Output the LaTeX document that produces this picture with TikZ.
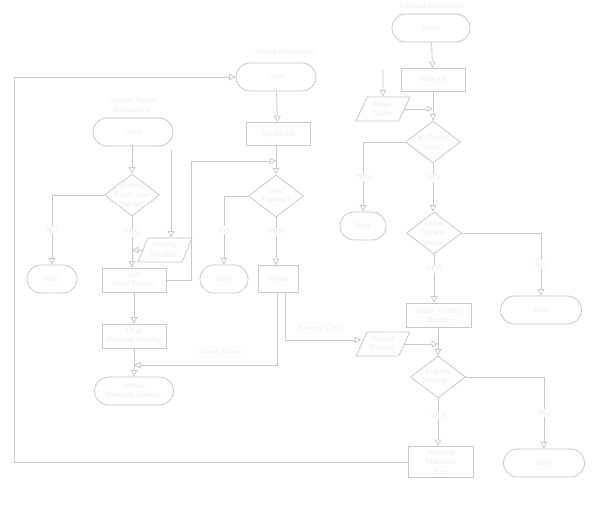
\documentclass[tikz,border=0pt]{standalone}
\usepackage{fontspec}
\setmainfont{Liberation Sans}
\usetikzlibrary{shapes.geometric,arrows.meta,calc}
\definecolor{lncol}{HTML}{C8C8C8}
\definecolor{txcol}{HTML}{EFEFEF}
\begin{document}
\begin{tikzpicture}[x=1pt,y=-1pt,
  font=\fontsize{8}{9.5}\selectfont,
  every node/.style={text=txcol, align=center},
  base/.style={draw=lncol, line width=0.8pt, fill=white, inner sep=0pt},
  term/.style={base, rectangle, rounded corners=14pt, minimum width=#1, minimum height=28pt},
  proc/.style={base, rectangle, minimum width=64pt, minimum height=23pt},
  dec/.style={base, diamond, minimum width=55pt, minimum height=42pt, aspect=1.35},
  io/.style={base, trapezium, trapezium left angle=62, trapezium right angle=118, trapezium stretches=true, minimum width=54pt, minimum height=24pt},
  lab/.style={fill=white, inner sep=1pt},
  arr/.style={draw=lncol, line width=0.8pt, -{Triangle[open,length=6.5pt,width=6.5pt]}}
]
\useasboundingbox (0,0) rectangle (599,510);

% ---------- Interact Behaviour ----------
\node (ititle) at (432,6) {Interact Behaviour};
\node[term=78pt] (istart) at (431,28) {Start};
\node[proc] (hide) at (433,80) {Hide UI};
\node[io] (pstate) at (383,109) {Player\\State};
\node[dec, label={center:Is Player\\Dead?}] (dead) at (433,142) {};
\node[term=46pt] (iend1) at (363,226) {End};
\node[dec, label={center:Enter\\Sphere\\Collider?}] (sphere) at (434,233) {};
\node[term=81pt] (iend2) at (541,310) {End};
\node[proc, minimum width=65pt, minimum height=24pt] (showbtn) at (439,315) {Show Control\\Button};
\node[io] (penergy) at (383,344) {Player\\Energy};
\node[dec, label={center:Energy\\Enough?}] (energy) at (438,377) {};
\node[term=81pt] (iend3) at (544,463) {End};
\node[proc, minimum width=65pt, minimum height=31pt] (amg) at (441,462) {Activate\\Machine\\Gun};

% ---------- Attack Behaviour ----------
\node (atitle) at (285,52) {Attack Behaviour};
\node[term=80pt] (astart) at (276,77) {Start};
\node[proc] (tryshoot) at (278,134) {Try Shoot};
\node[dec, label={center:Valid\\Enemy?}] (valid) at (276,196) {};
\node[term=48pt] (aend) at (224,279) {End};
\node[proc, minimum width=40pt, minimum height=27pt] (shoot) at (278,279) {Shoot};
\node (avlab) at (220,352) {Attack Value};
\node (eclab) at (320,329) {Energy Cost};

% ---------- Search Target Behaviour ----------
\node (stitle) at (132,105) {Search Target\\Behaviour};
\node[term=80pt] (sstart) at (133,132) {Start};
\node[dec, label={center:Enemy\\Enter Box\\Collider?}] (enter) at (132,195) {};
\node[term=50pt] (send) at (52,279) {End};
\node[proc, minimum height=24pt] (getvalid) at (134,280) {Get\\Valid Enemy};
\node[io] (epos) at (165,250) {Enemy\\Position};
\node[proc, minimum height=24pt] (findn) at (134,336) {Find\\Nearest Enemy};
\node[term=79pt] (atk) at (134,391) {Attack\\Nearest Enemy};

% ---------- connectors ----------
\coordinate (psin) at (383,70);
\coordinate (lp) at (14,0);
\coordinate (fb) at (191,161);
\coordinate (av) at (277,365);
\coordinate (ec) at (285,340);
\coordinate (epin) at (171,150);

\draw[arr] (istart) -- (hide);
\draw[arr] (psin) -- (pstate.north);
\draw[arr] (pstate.east) -- (pstate.east -| hide.south);
\draw[arr] (hide) -- (dead);
\draw[arr] (dead.west) -| node[lab,pos=0.75]{YES} (iend1.north);
\draw[arr] (dead.south) -- node[lab,pos=0.3]{NO} (dead.south |- sphere.north);
\draw[arr] (sphere.east) -| node[lab,pos=0.75]{NO} (iend2.north);
\draw[arr] (sphere.south) -- node[lab,pos=0.3]{YES} (sphere.south |- showbtn.north);
\draw[arr] (showbtn.south -| energy.north) -- (energy.north);
\draw[arr] (penergy.east) -- (penergy.east -| energy.north);
\draw[arr] (energy.east) -| node[lab,pos=0.75]{NO} (iend3.north);
\draw[arr] (energy.south) -- node[lab,pos=0.36]{YES} (energy.south |- amg.north);
\draw[arr] (amg.west) -- (amg.west -| lp) |- (astart.west);

\draw[arr] (astart) -- (tryshoot);
\draw[arr] (tryshoot.south -| valid.north) -- (valid.north);
\draw[arr] (getvalid.east) -| (fb) -- (fb -| valid.north);
\draw[arr] (valid.west) -| node[lab,pos=0.75]{NO} (aend.north);
\draw[arr] (valid.south) -- node[lab,pos=0.31]{YES} (valid.south |- shoot.north);
\draw[arr] (shoot.south -| av) -- (av) -- (av -| findn.south);
\draw[arr] (shoot.south -| ec) -- (ec) -- (ec -| penergy.west);

\draw[arr] (sstart.south -| enter.north) -- (enter.north);
\draw[arr] (enter.west) -| node[lab,pos=0.75]{NO} (send.north);
\draw[arr] (enter.south) -- node[lab,pos=0.32]{YES} (enter.south |- getvalid.north);
\draw[arr] (epin) -- (epin |- epos.north);
\draw[arr] (epos.west) -- (epos.west -| enter.south);
\draw[arr] (getvalid) -- (findn);
\draw[arr] (findn) -- (atk);
\end{tikzpicture}
\end{document}
